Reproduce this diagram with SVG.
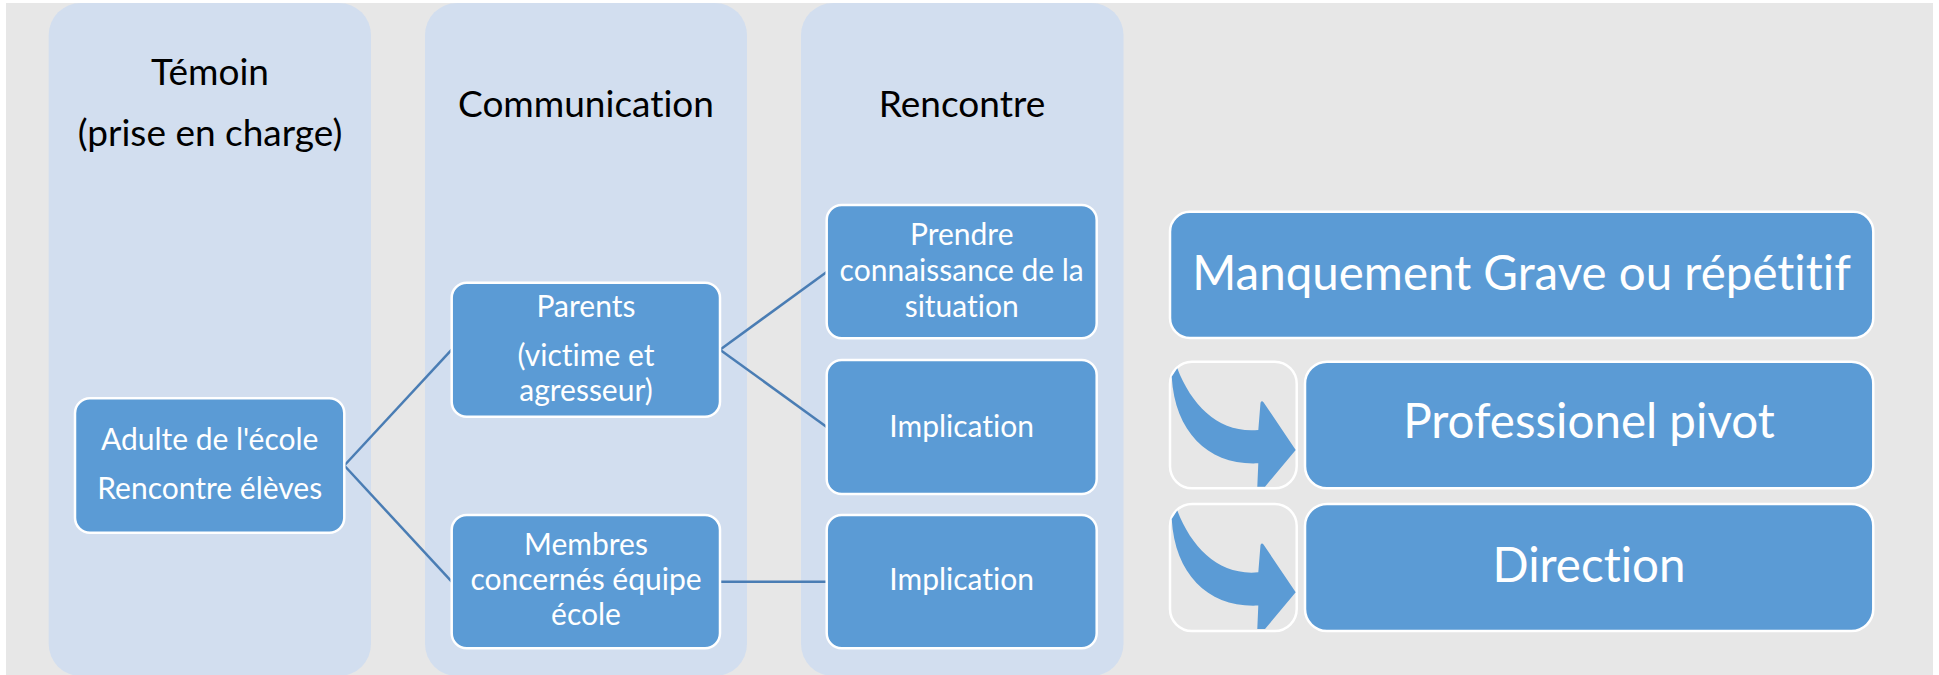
<svg xmlns="http://www.w3.org/2000/svg" width="1939" height="675" viewBox="0 0 1939 675">
<style>
.lane{fill:#D2DEEF}
.box{fill:#5B9BD5;stroke:#FFFFFF;stroke-width:2.5}
.abox{fill:none;stroke:#FFFFFF;stroke-width:2.5}
text{font-variant-ligatures:none}
.title{font-family:Lato,"Liberation Sans",sans-serif;font-size:37px;fill:#000000;text-anchor:middle}
.t{font-family:Lato,"Liberation Sans",sans-serif;font-size:30px;fill:#FFFFFF;text-anchor:middle}
.tb{font-family:Lato,"Liberation Sans",sans-serif;font-size:47.5px;fill:#FFFFFF;text-anchor:middle}
.conn{stroke:#4A7DB4;stroke-width:2.5;fill:none}
.arrow{fill:#5B9BD5}
</style>
<defs>
<path id="curvArrow" class="arrow" d="M1.7,15 L7.3,6.6 C22,45 50,72 88.3,68.3 L90.5,41 Q91.7,38.5 93.5,40.5 L125.7,88.3 L95,125 L87.3,125 L88.3,101.6 C40,104 5,72 1.7,15 Z"/>
</defs>
<rect x="0" y="0" width="1939" height="675" fill="#FFFFFF"/>
<rect x="6" y="3" width="1927" height="672" fill="#E7E7E7"/>

<g id="lane-temoin">
<rect class="lane" x="48.7" y="3" width="322.3" height="673" rx="32" ry="32"/>
<text class="title" x="210" y="85">Témoin</text>
<text class="title" x="210" y="146">(prise en charge)</text>
</g>
<g id="lane-communication">
<rect class="lane" x="425" y="3" width="322" height="673" rx="32" ry="32"/>
<text class="title" x="586" y="117">Communication</text>
</g>
<g id="lane-rencontre">
<rect class="lane" x="801" y="3" width="322.5" height="673" rx="32" ry="32"/>
<text class="title" x="962" y="117">Rencontre</text>
</g>

<g id="connectors">
<line class="conn" x1="344.3" y1="465.5" x2="451.7" y2="349.7"/>
<line class="conn" x1="344.3" y1="465.5" x2="451.7" y2="581.7"/>
<line class="conn" x1="720" y1="349.7" x2="826.7" y2="272"/>
<line class="conn" x1="720" y1="349.7" x2="826.7" y2="427"/>
<line class="conn" x1="720" y1="581.7" x2="826.7" y2="581.7"/>
</g>

<g id="node-adulte">
<rect class="box" x="75" y="398.3" width="269.3" height="134.4" rx="15" ry="15"/>
<text class="t" x="209.7" y="450">Adulte de l'école</text>
<text class="t" x="209.7" y="499">Rencontre élèves</text>
</g>
<g id="node-parents">
<rect class="box" x="451.7" y="282.7" width="268.3" height="134" rx="15" ry="15"/>
<text class="t" x="586" y="316.7">Parents</text>
<text class="t" x="586" y="365.7">(victime et</text>
<text class="t" x="586" y="400.7">agresseur)</text>
</g>
<g id="node-membres">
<rect class="box" x="451.7" y="515" width="268.3" height="133.3" rx="15" ry="15"/>
<text class="t" x="586" y="555">Membres</text>
<text class="t" x="586" y="590">concernés équipe</text>
<text class="t" x="586" y="625">école</text>
</g>
<g id="node-prendre">
<rect class="box" x="826.7" y="205" width="270" height="133.3" rx="15" ry="15"/>
<text class="t" x="961.7" y="245">Prendre</text>
<text class="t" x="961.7" y="281">connaissance de la</text>
<text class="t" x="961.7" y="317">situation</text>
</g>
<g id="node-implication1">
<rect class="box" x="826.7" y="360" width="270" height="134" rx="15" ry="15"/>
<text class="t" x="961.7" y="437">Implication</text>
</g>
<g id="node-implication2">
<rect class="box" x="826.7" y="515" width="270" height="133.3" rx="15" ry="15"/>
<text class="t" x="961.7" y="590">Implication</text>
</g>

<g id="node-manquement">
<rect class="box" x="1170" y="211.7" width="703.3" height="126.3" rx="20" ry="20"/>
<text class="tb" x="1521.5" y="290">Manquement Grave ou répétitif</text>
</g>
<g id="arrow-1">
<rect class="abox" x="1170" y="361.7" width="126.7" height="126.6" rx="22" ry="22"/>
<use href="#curvArrow" x="1170" y="361.7"/>
</g>
<g id="node-professionel">
<rect class="box" x="1305" y="361.7" width="568.3" height="126.6" rx="22" ry="22"/>
<text class="tb" x="1589" y="438">Professionel pivot</text>
</g>
<g id="arrow-2">
<rect class="abox" x="1170" y="504" width="126.7" height="127" rx="22" ry="22"/>
<use href="#curvArrow" x="1170" y="504"/>
</g>
<g id="node-direction">
<rect class="box" x="1305" y="504" width="568.3" height="127" rx="22" ry="22"/>
<text class="tb" x="1589" y="581.7">Direction</text>
</g>
</svg>
